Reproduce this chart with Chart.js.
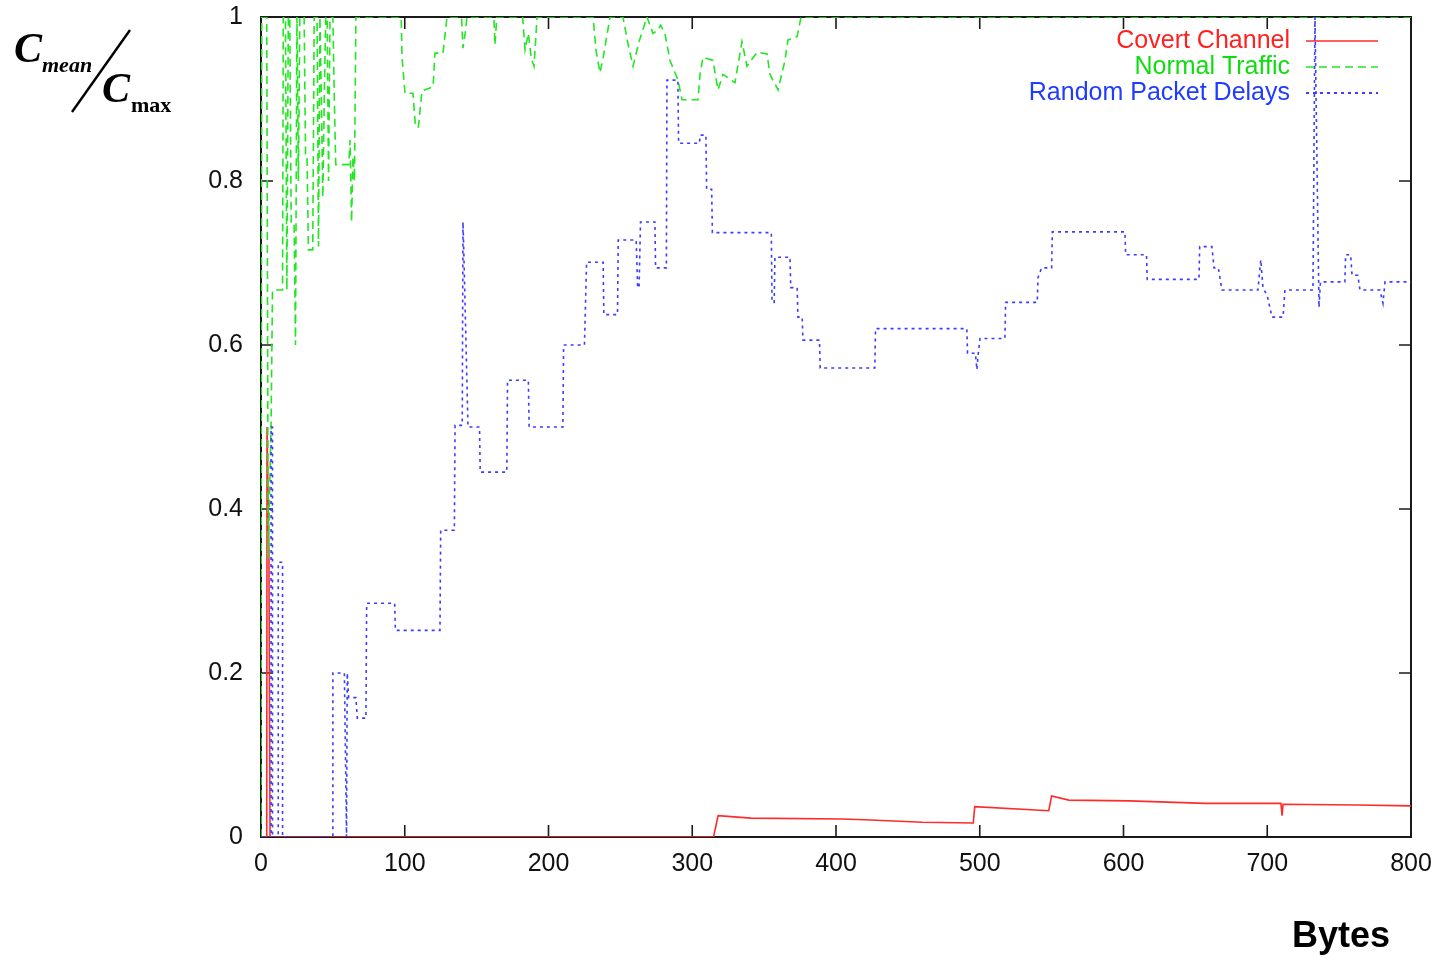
<!DOCTYPE html>
<html><head><meta charset="utf-8">
<script src="https://cdn.jsdelivr.net/npm/chart.js@4.4.1/dist/chart.umd.min.js"></script>
<style>html,body{margin:0;padding:0;background:#fff;overflow:hidden}#wrap{position:relative;width:1441px;height:958px}</style>
</head><body><div id="wrap"><canvas id="c" width="1441" height="958"></canvas></div>
<script>
const xTickValues = [0,100,200,300,400,500,600,700,800];
const xTickLabels = ['0','100','200','300','400','500','600','700','800'];
const yTickValues = [0,0.2,0.4,0.6,0.8,1];
const yTickLabels = ['0','0.2','0.4','0.6','0.8','1'];
const seriesNames = ['Covert Channel','Normal Traffic','Random Packet Delays'];
const xAxisTitle = 'Bytes';

const covertX = [0,4,4.2,5.5,6.3,314.8,318,341,404,420,460,495.5,496.5,548,550,562,604,657,709.5,710.3,711,762,800];
const covertY = [0,0,0.5,0.35,0,0,0.026,0.023,0.022,0.021,0.018,0.017,0.037,0.032,0.05,0.045,0.044,0.041,0.041,0.026,0.040,0.039,0.038];

const normalX = [0,0.5,4,5,7,8,15,15.5,17,18,19,20,21,23,24,25,26,27,30,31,32,33,36,37,39,40,41,42,43,44,45,46,47,48,50,51,52,61,62,63,64,65,66,
  97.5,98.1,100.2,105.7,107.5,109.5,112,119.7,121,126.6,129.4,139.5,140.5,142,143.3,162,162.8,164,182,183.7,186,188,189.9,191,192,
  231,233,235.8,238,242.8,251.8,255,258.8,263,268.5,272.7,276,278,281,284.5,290.1,292.9,304,305.4,307.5,314.4,317.9,321.4,329.7,334.6,338.1,345,352,354.1,359.7,364.5,366.6,372.9,375.7,800];
const normalY = [0,1,1,0.34,0.5,0.667,0.667,1,1,0.667,1,1,0.75,0.75,0.6,1,0.8,1,1,0.83,0.83,0.716,0.716,1,1,0.72,1,0.9,0.78,0.9,1,1,0.8,1,1,0.9,0.82,0.82,0.85,0.75,0.83,0.8,1,
  1,0.951,0.907,0.907,0.866,0.866,0.91,0.915,0.956,0.956,1,1,0.962,0.98,1,1,0.966,1,1,0.96,0.98,0.95,0.94,0.97,1,
  1,0.96,0.932,0.95,1,1,0.97,0.94,0.97,1,0.98,0.984,0.99,0.98,0.947,0.923,0.899,0.899,0.93,0.951,0.947,0.911,0.93,0.92,0.97,0.94,0.957,0.955,0.93,0.911,0.947,0.972,0.976,1,1];

const randomX = [0,7,7,8,8,12,12,15,15,50,50,58,59.5,60,61,66,67,73,73.5,93,93.5,124.5,125,134.5,135,140,140.5,141,144,152,152.5,171,171.5,186,186.5,210,210.5,225,226.5,238,238.5,248,248.5,261,262,263,264,274,274.5,282,282.4,290,290.5,305,305.5,309.5,310,313.5,314,355,355.5,357,357.5,368,368.5,373,373.5,376.5,377,388.5,389,427,427.5,491,491.5,497,498,499,500.2,517.5,518,540,540.5,543,550,550.5,601,601.5,616,616.5,652.5,653,661.5,663,666,668.5,693.5,695.5,697,700,703.3,711,712.3,731.8,733.2,736,737,754,754.5,758,759,763,764.5,778.4,780.5,781.9,800];
const randomY = [0,0,0.5,0.5,0,0,0.335,0.335,0,0,0.2,0.2,0,0.2,0.17,0.17,0.145,0.145,0.285,0.285,0.252,0.252,0.374,0.374,0.502,0.502,0.75,0.72,0.5,0.5,0.445,0.445,0.557,0.557,0.5,0.5,0.6,0.6,0.701,0.701,0.637,0.637,0.728,0.728,0.67,0.67,0.75,0.75,0.694,0.694,0.923,0.923,0.846,0.846,0.856,0.856,0.79,0.79,0.737,0.737,0.652,0.652,0.707,0.707,0.67,0.67,0.634,0.634,0.606,0.606,0.572,0.572,0.62,0.62,0.59,0.59,0.57,0.59,0.608,0.608,0.652,0.652,0.682,0.694,0.694,0.738,0.738,0.71,0.71,0.68,0.68,0.72,0.72,0.694,0.694,0.667,0.667,0.704,0.67,0.66,0.634,0.634,0.667,0.667,1,0.646,0.677,0.677,0.71,0.71,0.685,0.685,0.667,0.667,0.651,0.677,0.677];

const lineColors = ['#ff2a2a','#22e622','#3c3cff'];
const textColors = ['#ff2020','#10dd10','#1f3cff'];
const dashes = [[],[8,5],[3,4]];

function pts(xs, ys){ return xs.map((x,i)=>({x:x, y:ys[i]})); }

const frame = {
  id:'frame',
  beforeDatasetsDraw(chart){
    const {ctx, chartArea:a, scales:{x,y}} = chart;
    ctx.save();
    ctx.strokeStyle='#1a1a1a'; ctx.lineWidth=2;
    ctx.strokeRect(a.left, a.top, a.right-a.left, a.bottom-a.top);
    ctx.lineWidth=1.6; ctx.beginPath();
    xTickValues.forEach(v=>{const p=x.getPixelForValue(v);
      ctx.moveTo(p,a.bottom); ctx.lineTo(p,a.bottom-12);
      ctx.moveTo(p,a.top); ctx.lineTo(p,a.top+12);});
    yTickValues.forEach(v=>{const p=y.getPixelForValue(v);
      ctx.moveTo(a.left,p); ctx.lineTo(a.left+12,p);
      ctx.moveTo(a.right,p); ctx.lineTo(a.right-12,p);});
    ctx.stroke(); ctx.restore();
  },
  afterDatasetsDraw(chart){
    const {ctx, chartArea:a} = chart;
    ctx.save();
    ctx.font = '25px "Liberation Sans", Arial, sans-serif';
    ctx.textAlign='right'; ctx.textBaseline='middle';
    chart.data.datasets.forEach((ds,i)=>{
      const yy = a.top + 24 + i*26;
      ctx.fillStyle = textColors[i];
      ctx.fillText(ds.label, a.right-121, yy);
      ctx.strokeStyle = lineColors[i]; ctx.lineWidth = i===2?2.2:1.6;
      ctx.setLineDash(dashes[i]);
      ctx.beginPath(); ctx.moveTo(a.right-105, yy); ctx.lineTo(a.right-33, yy); ctx.stroke();
    });
    ctx.restore();
  },
  afterDraw(chart){
    const ctx = chart.ctx;
    ctx.save();
    ctx.fillStyle='#000'; ctx.textAlign='left'; ctx.textBaseline='alphabetic';
    ctx.font='bold italic 42px "Liberation Serif", serif';
    ctx.fillText('C', 14, 62);
    ctx.font='bold italic 22px "Liberation Serif", serif';
    ctx.fillText('mean', 42, 72);
    ctx.font='bold italic 42px "Liberation Serif", serif';
    ctx.fillText('C', 102, 102);
    ctx.font='bold 22px "Liberation Serif", serif';
    ctx.fillText('max', 131, 112);
    ctx.strokeStyle='#000'; ctx.lineWidth=2.4;
    ctx.beginPath(); ctx.moveTo(72,112); ctx.lineTo(130,30); ctx.stroke();
    ctx.font='bold 36px "Liberation Sans", Arial, sans-serif';
    ctx.fillText(xAxisTitle, 1292, 947);
    ctx.restore();
  }
};

new Chart(document.getElementById('c'), {
  type:'line',
  data:{ datasets:[
    {label:seriesNames[0], data:pts(covertX,covertY), borderColor:lineColors[0], borderWidth:1.6, borderDash:dashes[0], order:3},
    {label:seriesNames[1], data:pts(normalX,normalY), borderColor:lineColors[1], borderWidth:1.6, borderDash:dashes[1], order:2},
    {label:seriesNames[2], data:pts(randomX,randomY), borderColor:lineColors[2], borderWidth:1.6, borderDash:dashes[2], order:1}
  ]},
  options:{
    responsive:false, animation:false, devicePixelRatio:1,
    layout:{padding:{top:17,right:30,left:0,bottom:0}},
    elements:{point:{radius:0}, line:{tension:0, fill:false}},
    plugins:{legend:{display:false}, tooltip:{enabled:false}},
    scales:{
      x:{type:'linear', min:0, max:800,
        afterBuildTicks:s=>{s.ticks=xTickValues.map(v=>({value:v}));},
        afterFit:s=>{s.height=121; s.paddingLeft=0; s.paddingRight=0;},
        grid:{display:false, drawTicks:false}, border:{display:false},
        ticks:{padding:12, color:'#111', font:{family:'"Liberation Sans", Arial, sans-serif', size:25},
          maxRotation:0, autoSkip:false, callback:(v)=>xTickLabels[xTickValues.indexOf(v)]}},
      y:{type:'linear', min:0, max:1,
        afterBuildTicks:s=>{s.ticks=yTickValues.map(v=>({value:v}));},
        afterFit:s=>{s.width=261; s.paddingTop=0; s.paddingBottom=0;},
        grid:{display:false, drawTicks:false}, border:{display:false},
        ticks:{padding:18, color:'#111', font:{family:'"Liberation Sans", Arial, sans-serif', size:25},
          autoSkip:false, callback:(v)=>yTickLabels[yTickValues.indexOf(v)]}}
    }
  },
  plugins:[frame]
});
</script></body></html>
